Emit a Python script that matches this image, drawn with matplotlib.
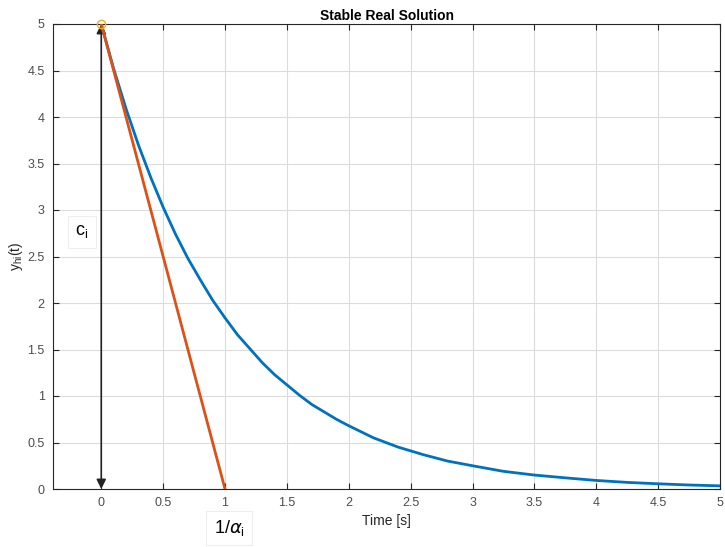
import numpy as np
import matplotlib.pyplot as plt

# values
t = [0, 0.1, 0.2, 0.3, 0.4, 0.5, 0.6, 0.7, 0.8, 0.9, 1.0, 1.1, 1.2, 1.3, 1.4, 1.5,
     1.6, 1.7, 1.8, 1.9, 2.0, 2.2, 2.4, 2.6, 2.8, 3.0, 3.25, 3.5, 3.75, 4.0, 4.25, 4.5, 4.75, 5.0]
y = [5.0, 4.52, 4.09, 3.70, 3.35, 3.03, 2.74, 2.48, 2.25, 2.03, 1.84, 1.66, 1.51, 1.36, 1.23, 1.12,
     1.01, 0.91, 0.83, 0.75, 0.68, 0.55, 0.45, 0.37, 0.30, 0.25, 0.19, 0.15, 0.12, 0.092, 0.071, 0.056, 0.043, 0.034]
tang_t = [0, 1]
tang_y = [5, 0]
xticks = [0, 0.5, 1, 1.5, 2, 2.5, 3, 3.5, 4, 4.5, 5]
yticks = [0, 0.5, 1, 1.5, 2, 2.5, 3, 3.5, 4, 4.5, 5]

plt.rcParams['font.family'] = ['Liberation Sans', 'DejaVu Sans']
plt.rcParams['mathtext.fontset'] = 'dejavusans'

fig = plt.figure(figsize=(7.25, 5.47), dpi=100)
ax = fig.add_axes([53/725, 1-489/547, (720-53)/725, (489-24)/547])

ax.plot(t, y, color='#0072BD', lw=2, zorder=3)
ax.plot(tang_t, tang_y, color='#D95319', lw=2, zorder=3)
ax.plot([0], [5], 'o', mfc='none', mec='#EDB120', ms=6, clip_on=False, zorder=4)
ax.annotate('', xy=(0, 5), xytext=(0, 0),
            arrowprops=dict(arrowstyle='<|-|>', color='#222222', lw=1.2,
                            mutation_scale=14, shrinkA=0, shrinkB=0), zorder=2)

ax.set_xlim(-0.39, 5)
ax.set_ylim(0, 5)
ax.set_xticks(xticks)
ax.set_yticks(yticks)
ax.set_xticklabels([f'{v:g}' for v in xticks])
ax.set_yticklabels([f'{v:g}' for v in yticks])
ax.grid(True, color='#dcdcdc', lw=0.8)
ax.set_axisbelow(True)
ax.tick_params(direction='in', length=4, colors='#262626', labelsize=9, labelcolor='#4d4d4d',
               top=True, right=True, pad=6)
for s in ax.spines.values():
    s.set_color('#262626')
    s.set_linewidth(0.8)

ax.set_title('Stable Real Solution', fontsize=10, fontweight='bold', pad=3)
ax.set_xlabel('Time [s]', fontsize=10, color='#262626', labelpad=3)
ax.set_ylabel('$\\mathregular{y_{hi}(t)}$', fontsize=10, color='#262626', labelpad=2)

fig.text(82/725, 1-232/547, '$\\mathregular{c_i}$', fontsize=13, ha='center', va='center',
         bbox=dict(boxstyle='square,pad=0.4', fc='white', ec='#eeeeee', lw=0.8))
fig.text(229/725, 1-528/547, '$\\mathregular{1/}\\alpha_{\\mathregular{i}}$', fontsize=13,
         ha='center', va='center',
         bbox=dict(boxstyle='square,pad=0.4', fc='white', ec='#eeeeee', lw=0.8))

fig.savefig('out.png', dpi=100)
